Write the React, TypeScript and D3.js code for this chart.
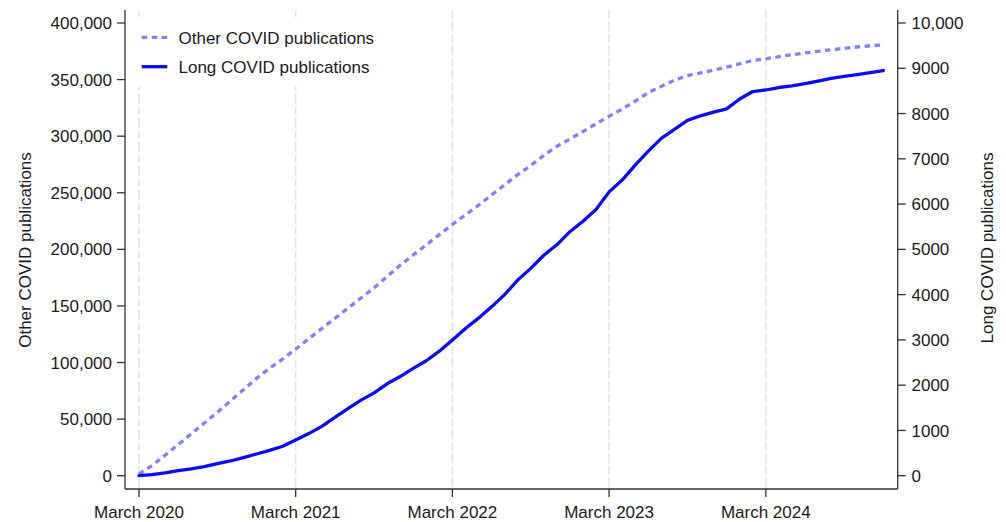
import React from "react";
import * as d3 from "d3";

// Monthly cumulative publication counts, March 2020 .. December 2024
const monthLabels: string[] = d3
  .timeMonths(new Date(2020, 2, 1), new Date(2025, 0, 1))
  .map((d) => d3.timeFormat("%B %Y")(d));

// Cumulative "Other COVID" publications (left axis)
const otherCovid: number[] = [
  1500, 9000, 18000, 27500, 37000, 46500, 56000, 66000, 76000, 86000, 95000, 103000,
  112000, 121000, 130000, 139000, 148000, 157000, 166000, 176000, 186000, 195000, 204000, 213000,
  222000, 230500, 239000, 248000, 257000, 266000, 274000, 283000, 291000, 297500, 304000, 311000,
  317500, 324000, 331000, 338500, 344000, 349500, 353500, 356000, 358300, 361000, 364000, 366800,
  368400, 370200, 372000, 373500, 375000, 376400, 377600, 378800, 379900, 380600,
];

// Cumulative "Long COVID" publications (right axis)
const longCovid: number[] = [
  0, 25, 60, 110, 150, 200, 265, 325, 400, 480, 560, 650,
  790, 930, 1090, 1290, 1480, 1670, 1830, 2030, 2190, 2370, 2540, 2750,
  3000, 3250, 3480, 3730, 4000, 4320, 4580, 4870, 5100, 5390, 5620, 5880,
  6270, 6530, 6860, 7170, 7450, 7650, 7850, 7950, 8030, 8104, 8320, 8486,
  8520, 8575, 8610, 8660, 8715, 8775, 8820, 8860, 8905, 8950,
];

const leftTicks: number[] = [0, 50000, 100000, 150000, 200000, 250000, 300000, 350000, 400000];
const rightTicks: number[] = [0, 1000, 2000, 3000, 4000, 5000, 6000, 7000, 8000, 9000, 10000];
const xTickMonths: number[] = [0, 12, 24, 36, 48];

const W = 1006;
const H = 522;
const plot = { left: 125, right: 897.7, top: 10, bottom: 489 };
const FONT = "'Liberation Sans', Arial, Helvetica, sans-serif";
const TEXT = "#1a1a1a";
const AXIS = "#333333";

export default function App() {
  const x = d3.scaleLinear().domain([-1.07, 58.1]).range([plot.left, plot.right]);
  const yL = d3.scaleLinear().domain([0, 400000]).range([475.7, 23]);
  const yR = d3.scaleLinear().domain([0, 10000]).range([475.7, 23]);

  const lineOther = d3
    .line<number>()
    .x((_, i) => x(i))
    .y((d) => yL(d))
    .curve(d3.curveLinear);
  const lineLong = d3
    .line<number>()
    .x((_, i) => x(i))
    .y((d) => yR(d))
    .curve(d3.curveLinear);

  const fmtLeft = d3.format(",");
  const fmtRight = (v: number) => (v >= 10000 ? d3.format(",")(v) : String(v));

  return (
    <svg
      width={W}
      height={H}
      viewBox={`0 0 ${W} ${H}`}
      style={{ position: "absolute", left: 0, top: 0, background: "#fff" }}
      fontFamily={FONT}
    >
      <rect x={0} y={0} width={W} height={H} fill="#fff" />

      {/* vertical grid */}
      {xTickMonths.map((m) => (
        <line
          key={"g" + m}
          x1={x(m)}
          x2={x(m)}
          y1={plot.top}
          y2={plot.bottom}
          stroke="#e4e4e4"
          strokeWidth={1.5}
          strokeDasharray="9,3"
        />
      ))}

      {/* legend backdrop */}
      <rect x={130} y={17} width={260} height={69} fill="#fff" />

      {/* series */}
      <path
        d={lineOther(otherCovid) || ""}
        fill="none"
        stroke="#8080ff"
        strokeWidth={3.3}
        strokeDasharray="5.5,4.5"
        strokeLinecap="butt"
      />
      <path
        d={lineLong(longCovid) || ""}
        fill="none"
        stroke="#0a0aff"
        strokeWidth={3.3}
        strokeLinejoin="round"
        strokeLinecap="round"
      />

      {/* axes */}
      <line x1={plot.left} x2={plot.left} y1={plot.top} y2={plot.bottom} stroke={AXIS} strokeWidth={1.3} />
      <line x1={plot.right} x2={plot.right} y1={plot.top} y2={plot.bottom} stroke={AXIS} strokeWidth={1.3} />
      <line x1={plot.left} x2={plot.right} y1={plot.bottom} y2={plot.bottom} stroke={AXIS} strokeWidth={1.3} />

      {/* left ticks */}
      {leftTicks.map((t) => (
        <g key={"l" + t}>
          <line x1={plot.left - 8} x2={plot.left} y1={yL(t)} y2={yL(t)} stroke={AXIS} strokeWidth={1.3} />
          <text x={112} y={yL(t)} dy="0.36em" textAnchor="end" fontSize={17} fill={TEXT}>
            {fmtLeft(t)}
          </text>
        </g>
      ))}

      {/* right ticks */}
      {rightTicks.map((t) => (
        <g key={"r" + t}>
          <line x1={plot.right} x2={plot.right + 8} y1={yR(t)} y2={yR(t)} stroke={AXIS} strokeWidth={1.3} />
          <text x={911.5} y={yR(t)} dy="0.36em" textAnchor="start" fontSize={17} fill={TEXT}>
            {fmtRight(t)}
          </text>
        </g>
      ))}

      {/* bottom ticks */}
      {xTickMonths.map((m) => (
        <g key={"b" + m}>
          <line x1={x(m)} x2={x(m)} y1={plot.bottom} y2={plot.bottom + 8} stroke={AXIS} strokeWidth={1.3} />
          <text x={x(m)} y={518} textAnchor="middle" fontSize={17} fill={TEXT}>
            {monthLabels[m]}
          </text>
        </g>
      ))}

      {/* axis titles */}
      <text
        transform={`translate(30.5, 250) rotate(-90)`}
        textAnchor="middle"
        fontSize={17}
        fill={TEXT}
      >
        Other COVID publications
      </text>
      <text
        transform={`translate(993, 248) rotate(-90)`}
        textAnchor="middle"
        fontSize={17}
        fill={TEXT}
      >
        Long COVID publications
      </text>

      {/* legend */}
      <line x1={141.7} x2={167.3} y1={37.3} y2={37.3} stroke="#8080ff" strokeWidth={3.3} strokeDasharray="5.5,4.5" />
      <text x={178.5} y={43.5} fontSize={17} fill={TEXT}>
        Other COVID publications
      </text>
      <line x1={141.7} x2={167.3} y1={66.7} y2={66.7} stroke="#0a0aff" strokeWidth={3.3} />
      <text x={178.5} y={73} fontSize={17} fill={TEXT}>
        Long COVID publications
      </text>
    </svg>
  );
}
